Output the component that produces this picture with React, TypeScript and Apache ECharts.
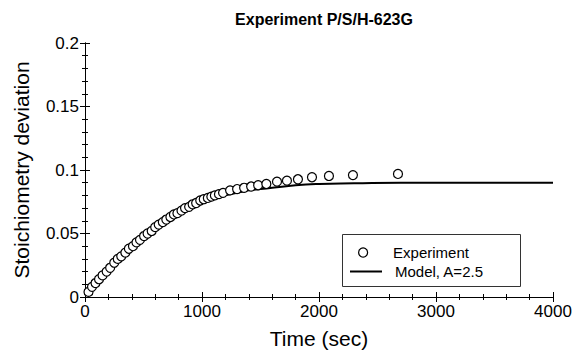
import React, { useEffect, useRef } from "react";
import * as echarts from "echarts";

const expTime = [30, 60, 90, 120, 150, 185, 215, 250, 280, 310, 345, 375, 410, 440, 470, 505, 535, 570, 600, 630, 665, 695, 730, 760, 790, 825, 855, 890, 920, 950, 985, 1015, 1050, 1080, 1110, 1145, 1180, 1240, 1300, 1360, 1420, 1480, 1550, 1641, 1726, 1820, 1940, 2085, 2290, 2675];
const expValue = [0.004, 0.008, 0.011, 0.014, 0.017, 0.02, 0.023, 0.027, 0.03, 0.032, 0.035, 0.038, 0.04, 0.043, 0.045, 0.048, 0.05, 0.052, 0.055, 0.057, 0.059, 0.061, 0.063, 0.065, 0.066, 0.068, 0.07, 0.071, 0.073, 0.074, 0.076, 0.077, 0.078, 0.079, 0.08, 0.081, 0.082, 0.084, 0.085, 0.086, 0.087, 0.088, 0.089, 0.0908, 0.0916, 0.0927, 0.0943, 0.0953, 0.096, 0.0969];

const modelTime = [0, 100, 200, 300, 400, 500, 600, 700, 800, 900, 1000, 1100, 1200, 1300, 1400, 1500, 1600, 1800, 2000, 2300, 2700, 3200, 4000];
const modelValue = [0.003, 0.012, 0.022, 0.031, 0.04, 0.047, 0.054, 0.06, 0.065, 0.07, 0.074, 0.077, 0.08, 0.082, 0.084, 0.085, 0.086, 0.088, 0.089, 0.0895, 0.09, 0.09, 0.09];

const xTicks = { min: 0, max: 4000, interval: 1000 };
const yTicks = { min: 0, max: 0.2, interval: 0.05 };

const FONT = "'Liberation Sans', Arial, sans-serif";

export default function App() {
  const ref = useRef<HTMLDivElement>(null);
  useEffect(() => {
    if (!ref.current) return;
    const chart = echarts.init(ref.current, undefined, { renderer: "svg" });
    const axisCommon = {
      axisLine: { show: true, lineStyle: { color: "#000", width: 1 } },
      axisTick: { show: true, inside: true, length: 5, lineStyle: { color: "#000" } },
      minorTick: { show: true, splitNumber: 5, length: 3, lineStyle: { color: "#000" } },
      splitLine: { show: false },
    };
    const legendText = { fontFamily: FONT, fontSize: 15, color: "#000" };
    chart.setOption({
      animation: false,
      backgroundColor: "#fff",
      textStyle: { fontFamily: FONT, color: "#000" },
      title: {
        text: "Experiment P/S/H-623G",
        left: 319,
        textAlign: "center",
        top: 6,
        textStyle: { fontFamily: FONT, fontSize: 16, fontWeight: "bold", color: "#000" },
      },
      grid: { left: 85, top: 43, right: 27, bottom: 61 },
      graphic: [
        {
          type: "rect",
          shape: { x: 342.5, y: 234.5, width: 178, height: 52 },
          style: { fill: "#fff", stroke: "#333", lineWidth: 1 },
          z: 5,
        },
      ],
      legend: [
        {
          left: 358,
          top: 245,
          padding: 0,
          itemWidth: 32,
          itemHeight: 9,
          formatter: "{a|{name}}",
          textStyle: { ...legendText, rich: { a: { fontFamily: FONT, fontSize: 15, color: "#000", padding: [0, 0, 0, 9] } } },
          z: 10,
          data: [
            { name: "Experiment", icon: "circle", itemStyle: { color: "#fff", borderColor: "#000", borderWidth: 1.2 } },
          ],
        },
        {
          left: 350,
          top: 264,
          padding: 0,
          itemWidth: 32,
          itemHeight: 2,
          formatter: "{a|{name}}",
          textStyle: { ...legendText, rich: { a: { fontFamily: FONT, fontSize: 15, color: "#000", padding: [0, 0, 0, 8] } } },
          z: 10,
          data: [{ name: "Model, A=2.5", icon: "rect", itemStyle: { color: "#000" } }],
        },
      ],
      xAxis: [
        {
          type: "value",
          ...xTicks,
          position: "bottom",
          name: "Time (sec)",
          nameLocation: "middle",
          nameGap: 31,
          nameTextStyle: { fontFamily: FONT, fontSize: 21, color: "#000" },
          axisLabel: { fontFamily: FONT, fontSize: 17, color: "#000", margin: 6, formatter: (v: number) => String(v) },
          ...axisCommon,
        },
        {
          type: "value",
          ...xTicks,
          position: "top",
          axisLabel: { show: false },
          ...axisCommon,
        },
      ],
      yAxis: [
        {
          type: "value",
          ...yTicks,
          position: "left",
          name: "Stoichiometry deviation",
          nameLocation: "middle",
          nameGap: 53,
          nameTextStyle: { fontFamily: FONT, fontSize: 21, color: "#000" },
          axisLabel: { fontFamily: FONT, fontSize: 17, color: "#000", margin: 6 },
          ...axisCommon,
        },
        {
          type: "value",
          ...yTicks,
          position: "right",
          axisLabel: { show: false },
          ...axisCommon,
        },
      ],
      series: [
        {
          name: "Model, A=2.5",
          type: "line",
          data: modelTime.map((t, i) => [t, modelValue[i]]),
          smooth: true,
          symbol: "none",
          lineStyle: { color: "#000", width: 2 },
          itemStyle: { color: "#000" },
          z: 2,
        },
        {
          name: "Experiment",
          type: "scatter",
          data: expTime.map((t, i) => [t, expValue[i]]),
          symbol: "circle",
          symbolSize: 9,
          itemStyle: { color: "#fff", borderColor: "#000", borderWidth: 1.2, opacity: 1 },
          z: 3,
        },
      ],
    });
    return () => chart.dispose();
  }, []);
  return <div ref={ref} style={{ width: 580, height: 358, position: "absolute", left: 0, top: 0 }} />;
}
